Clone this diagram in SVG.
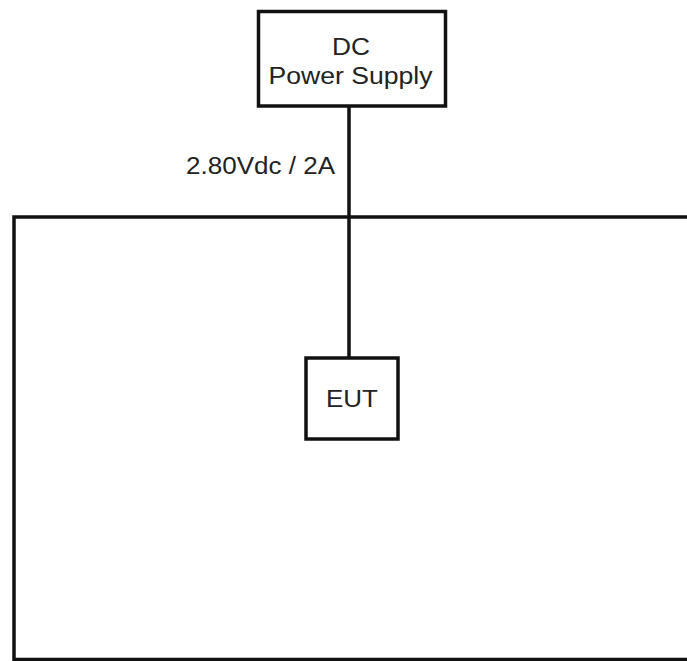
<svg xmlns="http://www.w3.org/2000/svg" width="687" height="661" viewBox="0 0 687 661">
<style>
.box{fill:#fff;stroke:#111;stroke-width:3.5}
.ln{fill:none;stroke:#111;stroke-width:3.5}
.t{font-family:"Liberation Sans",Arial,sans-serif;font-size:23px;fill:#222}
</style>
<rect width="687" height="661" fill="#fff"/>
<g id="connectors">
<path class="ln" d="M687,217 H14 V659.5 H687"/>
<line class="ln" x1="349" y1="106" x2="349" y2="358"/>
</g>
<g id="dc-power-supply">
<rect class="box" x="258.5" y="11.5" width="187" height="94.5"/>
<text class="t" x="351" y="55" text-anchor="middle" textLength="38" lengthAdjust="spacingAndGlyphs">DC</text>
<text class="t" x="350.5" y="84" text-anchor="middle" textLength="164" lengthAdjust="spacingAndGlyphs">Power Supply</text>
</g>
<g id="label-voltage">
<text class="t" x="186" y="174" textLength="149" lengthAdjust="spacingAndGlyphs">2.80Vdc / 2A</text>
</g>
<g id="eut">
<rect class="box" x="306" y="358" width="92" height="81"/>
<text class="t" x="352" y="407" text-anchor="middle" textLength="52" lengthAdjust="spacingAndGlyphs">EUT</text>
</g>
</svg>
